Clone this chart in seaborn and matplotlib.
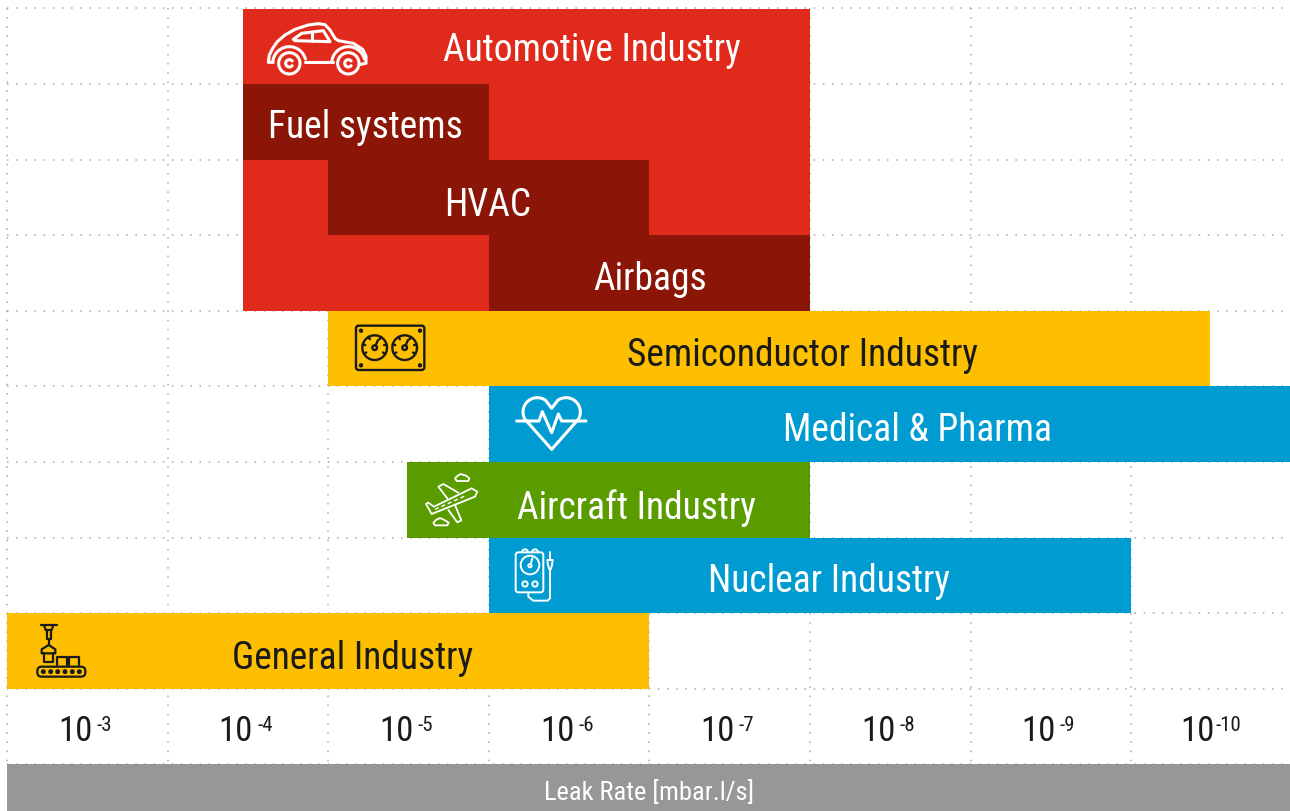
import numpy as np
import pandas as pd
import seaborn as sns
from matplotlib import pyplot as plt
from matplotlib.patches import Circle, FancyBboxPatch, Polygon
from matplotlib.transforms import Affine2D

sns.set_theme(style='white')
plt.rcParams['font.family'] = ['Roboto Condensed', 'Roboto', 'DejaVu Sans']

# bars: x is -log10(leak rate), so 3 means 10^-3
rows = ['auto0', 'fuel', 'hvac', 'airbags', 'semi', 'medical', 'aircraft', 'nuclear', 'general', 'ticks', 'axis']
bar_rows = ['auto0', 'fuel', 'hvac', 'airbags', 'fuel', 'hvac', 'airbags', 'semi', 'medical', 'aircraft', 'nuclear', 'general', 'axis']
bar_start = [4.47, 4.47, 4.47, 4.47, 4.47, 5.0, 6.0, 5.0, 6.0, 5.49, 6.0, 3.0, 3.0]
bar_end = [8.0, 8.0, 8.0, 8.0, 6.0, 7.0, 8.0, 10.49, 11.05, 8.0, 10.0, 7.0, 11.05]
bar_colors = ['#E02B1C', '#E02B1C', '#E02B1C', '#E02B1C', '#8B1506', '#8B1506', '#8B1506',
              '#FDBF00', '#009CD1', '#5A9C00', '#009CD1', '#FDBF00', '#979797']

labels = ['Automotive Industry', 'Fuel systems', 'HVAC', 'Airbags', 'Semiconductor Industry',
          'Medical & Pharma', 'Aircraft Industry', 'Nuclear Industry', 'General Industry', 'Leak Rate [mbar.l/s]']
label_rows = [0, 1, 2, 3, 4, 5, 6, 7, 8, 9.84]
label_x = [6.64, 5.23, 5.995, 7.005, 7.95, 8.67, 6.92, 8.12, 5.15, 7.0]
label_colors = ['white', 'white', 'white', 'white', '#1a1a1a', 'white', 'white', 'white', '#1a1a1a', 'white']
label_sizes = [27, 27, 27, 27, 27, 27, 27, 27, 27, 19]
label_dy = [-4, -6, -8, -6, -7, -6, -8, -6, -7, -2]

exponents = ['-3', '-4', '-5', '-6', '-7', '-8', '-9', '-10']

fig = plt.figure(figsize=(12.9, 8.11), dpi=100)
ax = fig.add_axes([0, 0, 1, 1])

for k in range(len(bar_rows)):
    one = pd.DataFrame({'row': [bar_rows[k]], 'width': [bar_end[k] - bar_start[k]]})
    sns.barplot(data=one, x='width', y='row', order=rows, orient='h', width=1.0, color=bar_colors[k],
                saturation=1, errorbar=None, left=bar_start[k], linewidth=0, ax=ax, zorder=2)

col_px = 160.57
row_px = 75.6
ax.set_xlim(3 - 7.2 / col_px, 3 + (1290 - 7.2) / col_px)
ax.set_ylim(-0.5 + (811 - 8.5) / row_px, -0.5 - 8.5 / row_px)
ax.axis('off')

# dotted grid
dots = (0, (1, 5))
ax.vlines(np.arange(3, 12), -0.5, 9.5, color='#a8a8a8', lw=1.1, linestyle=dots, zorder=1)
ax.hlines(np.arange(-0.5, 10), 3, 11.05, color='#a8a8a8', lw=1.1, linestyle=dots, zorder=1)

for k in range(len(labels)):
    ax.annotate(labels[k], (label_x[k], label_rows[k]), xytext=(0, label_dy[k]), textcoords='offset pixels',
                color=label_colors[k], fontsize=label_sizes[k], ha='center', va='center', zorder=5)

for k, e in enumerate(exponents):
    long_e = len(e) == 3
    ax.annotate('10', (3.5 + k, 9), xytext=(3 if long_e else 5, -5), textcoords='offset pixels', color='#1a1a1a',
                fontsize=25, ha='right', va='center')
    ax.annotate(e, (3.5 + k, 9), xytext=(4 if long_e else 9, 1), textcoords='offset pixels', color='#1a1a1a',
                fontsize=15, ha='left', va='center')

# icons, drawn in the coordinates of a screen pixel grid
ov = fig.add_axes([0, 0, 1, 1], facecolor='none')
ov.set_xlim(0, 1290)
ov.set_ylim(811, 0)
ov.axis('off')


def arc(cx, cy, r, a0, a1, n=24):
    t = np.radians(np.linspace(a0, a1, n))
    return list(zip(cx + r * np.cos(t), cy + r * np.sin(t)))


def icon(ox, oy, color, lw):
    tr = Affine2D().scale(1 / 3).translate(ox, oy) + ov.transData

    def line(pts, close=False):
        ov.add_patch(Polygon(pts, closed=close, fill=False, ec=color, lw=lw, transform=tr,
                             joinstyle='round', capstyle='round'))

    def circ(x, y, r, fill=False):
        ov.add_patch(Circle((x, y), r, fill=fill, fc=color, ec=color, lw=lw, transform=tr))

    def box(x0, y0, x1, y1, pad=8):
        ov.add_patch(FancyBboxPatch((x0 + pad, y0 + pad), x1 - x0 - 2 * pad, y1 - y0 - 2 * pad,
                                    boxstyle='round,pad=%d' % pad, fill=False, ec=color, lw=lw, transform=tr))
    return line, circ, box


# car
line, circ, box = icon(240, 0, 'white', 2.2)
line([(100, 187), (85, 187), (88, 165), (98, 145), (112, 125), (135, 105), (165, 88), (205, 75), (235, 71), (255, 74),
      (270, 90), (285, 115), (295, 122), (340, 130), (368, 148), (378, 168), (378, 190), (362, 193)])
line([(195, 187), (280, 187)])
line(arc(148, 190, 50, 190, 345))
line(arc(325, 190, 50, 190, 345))
circ(148, 190, 32)
circ(325, 190, 32)
line(arc(148, 190, 11, 40, 320))
line(arc(325, 190, 11, 40, 320))
line([(160, 118), (185, 100), (250, 92), (270, 125), (165, 122)], close=True)
line([(215, 95), (215, 123)])

# gauges
line, circ, box = icon(340, 310, '#1a1a1a', 1.7)
box(48, 47, 253, 180)
for cx in [104, 194]:
    circ(cx, 113, 37)
    circ(cx, 113, 7)
    line([(cx + 3, 106), (cx + 10, 90)])
    for a in [150, 195, 240, 300, 345, 30]:
        line(arc(cx, 113, 37, a, a + 1, 2) + arc(cx, 113, 29, a, a + 1, 2)[:1])
for px, py in [(63, 62), (240, 62), (63, 166), (240, 166)]:
    circ(px, py, 3, fill=True)

# heart
line, circ, box = icon(340, 310, 'white', 2.2)
line([(530, 333), (597, 333), (607, 305), (635, 368), (655, 312), (665, 333), (738, 333)])
line(arc(592, 306, 43, 150, 305) + [(635, 295)] + arc(678, 306, 43, 235, 390) + [(635, 418)], close=True)

# plane
line, circ, box = icon(340, 310, 'white', 1.3)
line([(258, 582), (275, 612), (405, 560), (412, 545), (395, 535), (282, 590), (265, 578)], close=True)
line([(322, 565), (295, 530), (310, 522), (355, 548)])
line([(325, 600), (352, 637), (364, 631), (345, 585)])
ov.plot([340 + 285 / 3, 340 + 375 / 3], [310 + 598 / 3, 310 + 558 / 3], color='white', lw=1, linestyle=(0, (3, 2)))
line([(345, 505), (352, 498), (362, 492), (378, 497), (388, 505), (385, 513), (350, 513)], close=True)
line([(280, 638), (288, 630), (300, 624), (315, 631), (326, 638), (322, 646), (285, 646)], close=True)

# tester
line, circ, box = icon(500, 530, 'white', 1.4)
box(47, 67, 130, 187)
circ(90, 105, 28)
circ(90, 107, 5)
line([(92, 102), (97, 85)])
circ(75, 162, 8)
circ(105, 162, 8)
line(arc(75, 67, 9, 180, 360))
line(arc(105, 67, 9, 180, 360))
line([(150, 65), (150, 88)])
line([(142, 90), (158, 90), (156, 105), (152, 118), (148, 118), (144, 105)], close=True)
line([(150, 118), (150, 205), (143, 212), (100, 212), (85, 200), (85, 190)])

# factory
line, circ, box = icon(0, 610, '#1a1a1a', 1.6)
box(112, 170, 256, 200, pad=13)
for cx in [130, 152, 173, 195, 217, 238]:
    circ(cx, 185, 4)
line([(170, 165), (170, 140), (200, 140), (200, 165)])
line([(208, 165), (208, 140), (238, 140), (238, 165)])
line([(122, 46), (170, 46)])
line([(133, 48), (137, 60), (155, 60), (159, 48)])
line([(140, 60), (140, 88), (152, 88), (152, 60)])
line([(146, 88), (146, 105)])
line([(125, 130), (125, 118), (146, 105), (166, 118), (166, 130)], close=True)
line([(132, 130), (132, 157), (160, 157), (160, 130)])

ov.set_xlim(0, 1290)
ov.set_ylim(811, 0)
plt.savefig('out.png', dpi=100)
